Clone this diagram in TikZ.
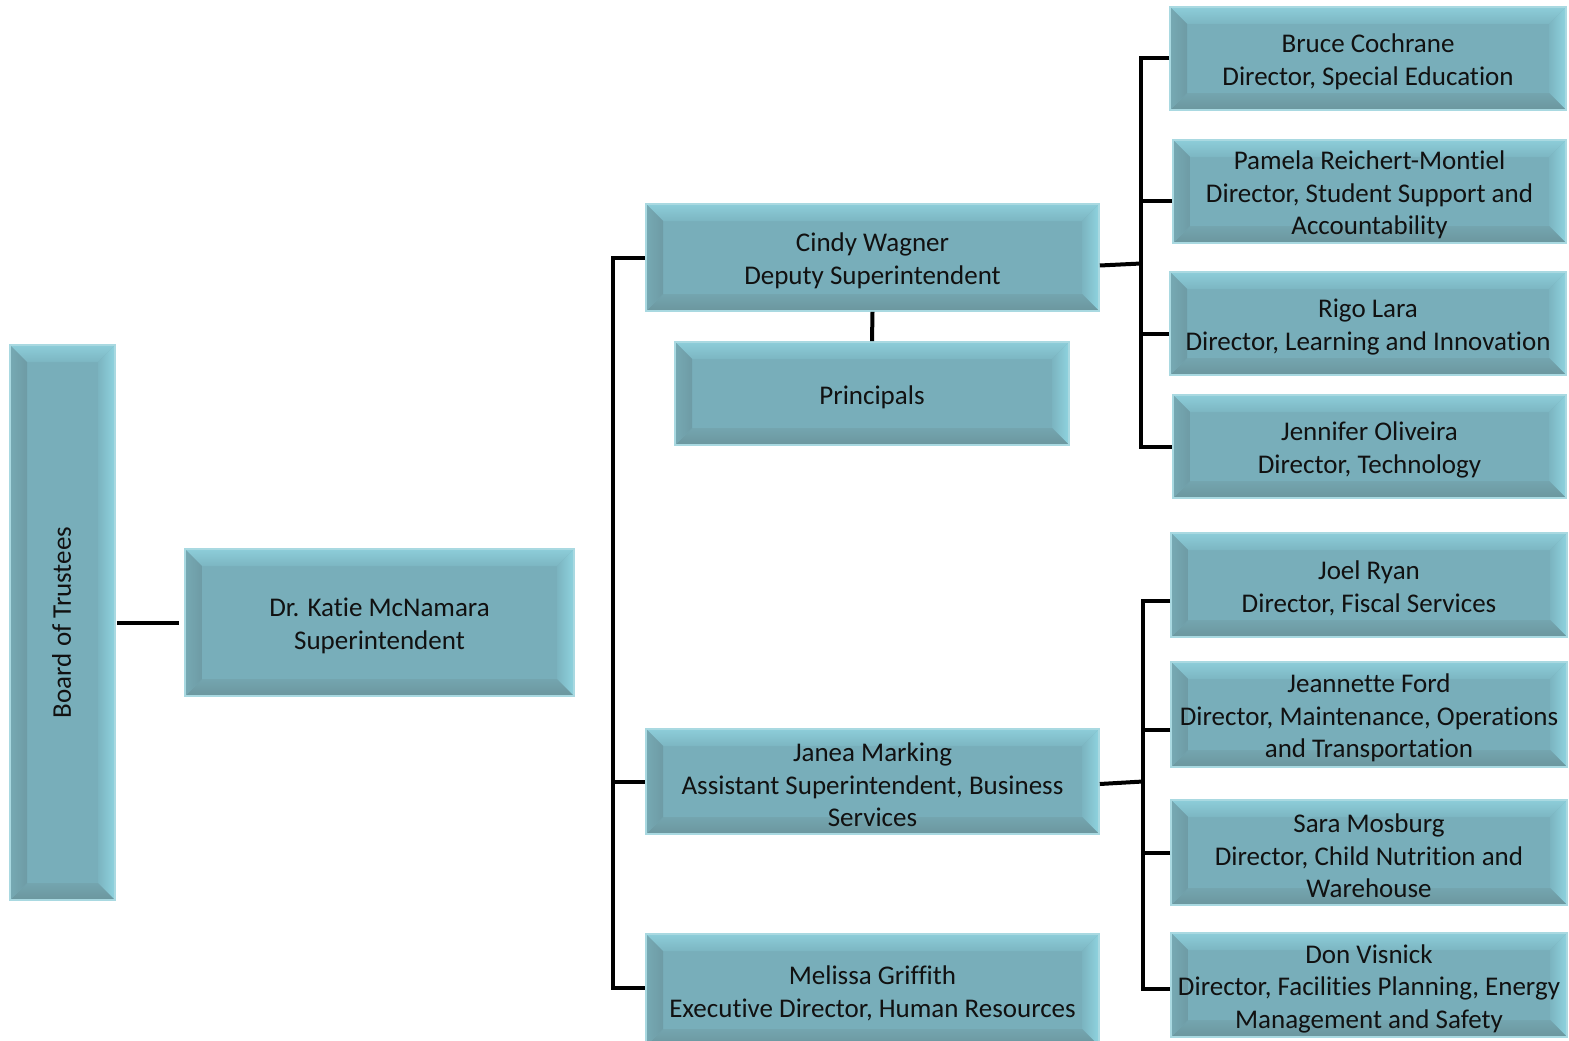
\documentclass[tikz,border=0pt]{standalone}
\usepackage{fontspec}
\setmainfont{Carlito}[Ligatures=NoCommon]
\definecolor{facec}{HTML}{78AEBA}
\definecolor{topo}{HTML}{8DCDD9}
\definecolor{topi}{HTML}{7CB6C2}
\definecolor{righto}{HTML}{8FD3DF}
\definecolor{righti}{HTML}{7BB4C0}
\definecolor{boto}{HTML}{6B969E}
\definecolor{boti}{HTML}{74A5AF}
\definecolor{lefto}{HTML}{76A9B3}
\definecolor{lefti}{HTML}{6E9BA5}
\definecolor{edgec}{HTML}{A9D9E1}
\definecolor{txtc}{HTML}{111111}
\newlength\bw
\setlength\bw{17pt}
\tikzset{
  bev/.style={rectangle, draw=edgec, line width=1.6pt, fill=facec, inner sep=0pt,
    path picture={
      \coordinate (nw) at (path picture bounding box.north west);
      \coordinate (ne) at (path picture bounding box.north east);
      \coordinate (sw) at (path picture bounding box.south west);
      \coordinate (se) at (path picture bounding box.south east);
      \shade[top color=topo, bottom color=topi] (nw) -- (ne) -- ([xshift=-\bw,yshift=-\bw]ne) -- ([xshift=\bw,yshift=-\bw]nw) -- cycle;
      \shade[left color=righti, right color=righto] (ne) -- (se) -- ([xshift=-\bw,yshift=\bw]se) -- ([xshift=-\bw,yshift=-\bw]ne) -- cycle;
      \shade[top color=boti, bottom color=boto] (se) -- (sw) -- ([xshift=\bw,yshift=\bw]sw) -- ([xshift=-\bw,yshift=\bw]se) -- cycle;
      \shade[left color=lefto, right color=lefti] (sw) -- (nw) -- ([xshift=\bw,yshift=-\bw]nw) -- ([xshift=\bw,yshift=\bw]sw) -- cycle;
    }},
  txt/.style={align=center, text=txtc, inner sep=0pt, font=\fontsize{27}{32.5}\selectfont},
  conn/.style={line width=4pt, black},
}
\newcommand\bbox[5]{%
  \node[bev, minimum width=#3, minimum height=#4] (#1) at #2 {};
  \node[txt] (#1t) at ([yshift=-3.5pt]#1.center) {#5};}
\begin{document}
\begin{tikzpicture}[x=1pt,y=-1pt]
\useasboundingbox (0,0) rectangle (1569,1041);
\begin{scope}
\clip (0,0) rectangle (1569,1041);
% left
\node[bev, minimum width=105pt, minimum height=555pt] (board) at (62.5,622.5) {};
\node[txt, rotate=90] (boardt) at ([xshift=-1pt]board.center) {Board of Trustees};
\bbox{super}{(379.5,622.5)}{389pt}{147pt}{Dr. Katie McNamara\\Superintendent}
% middle
\bbox{cindy}{(872.5,257.5)}{453pt}{107pt}{Cindy Wagner\\Deputy Superintendent}
\bbox{princ}{(872,393.5)}{394pt}{103pt}{Principals}
\bbox{janea}{(872.5,781.5)}{453pt}{105pt}{Janea Marking\\Assistant Superintendent, Business\\Services}
\bbox{melissa}{(872.5,990)}{453pt}{112pt}{Melissa Griffith\\Executive Director, Human Resources}
% right top
\bbox{bruce}{(1368,58.5)}{396pt}{103pt}{Bruce Cochrane\\Director, Special Education}
\bbox{pamela}{(1369.5,191.5)}{393pt}{103pt}{Pamela Reichert-Montiel\\Director, Student Support and\\Accountability}
\bbox{rigo}{(1368,323.5)}{396pt}{103pt}{Rigo Lara\\Director, Learning and Innovation}
\bbox{jenn}{(1369.5,446.5)}{393pt}{103pt}{Jennifer Oliveira\\Director, Technology}
% right bottom
\bbox{joel}{(1369,585)}{396pt}{104pt}{Joel Ryan\\Director, Fiscal Services}
\bbox{jeann}{(1369,714.5)}{396pt}{105pt}{Jeannette Ford\\Director, Maintenance, Operations\\and Transportation}
\bbox{sara}{(1369,852.5)}{396pt}{105pt}{Sara Mosburg\\Director, Child Nutrition and\\Warehouse}
\bbox{don}{(1369,985)}{396pt}{104pt}{Don Visnick\\Director, Facilities Planning, Energy\\Management and Safety}
\end{scope}
% trunk coordinates
\coordinate (t1) at (613,0);
\coordinate (t2) at (1141,0);
\coordinate (t3) at (1143,0);
% connectors
\draw[conn, shorten <=1pt, shorten >=5pt] (board.east) -- (super.west);
\draw[conn] (cindy.west) -- (t1 |- cindy.west) -- ([yshift=2pt]t1 |- melissa.west) -- ([yshift=2pt]melissa.west);
\draw[conn] (t1 |- janea.west) -- (janea.west);
\draw[conn] (cindy.south) -- (princ.north);
% top right group
\draw[conn] ([yshift=-8pt]cindy.east) -- ([yshift=-6pt]t2 |- cindy.east);
\draw[conn] (bruce.west) -- (t2 |- bruce.west) -- (t2 |- jenn.west) -- (jenn.west);
\draw[conn] ([yshift=-9.5pt]pamela.west) -- ([yshift=-9.5pt]t2 |- pamela.west);
\draw[conn] ([yshift=-10.5pt]rigo.west) -- ([yshift=-10.5pt]t2 |- rigo.west);
% bottom right group
\draw[conn] ([yshift=-2.5pt]janea.east) -- ([yshift=0pt]t3 |- janea.east);
\draw[conn] ([yshift=-16pt]joel.west) -- ([yshift=-16pt]t3 |- joel.west) -- ([yshift=-4pt]t3 |- don.west) -- ([yshift=-4pt]don.west);
\draw[conn] ([yshift=-15.5pt]jeann.west) -- ([yshift=-15.5pt]t3 |- jeann.west);
\draw[conn] (sara.west) -- (t3 |- sara.west);
\end{tikzpicture}
\end{document}
